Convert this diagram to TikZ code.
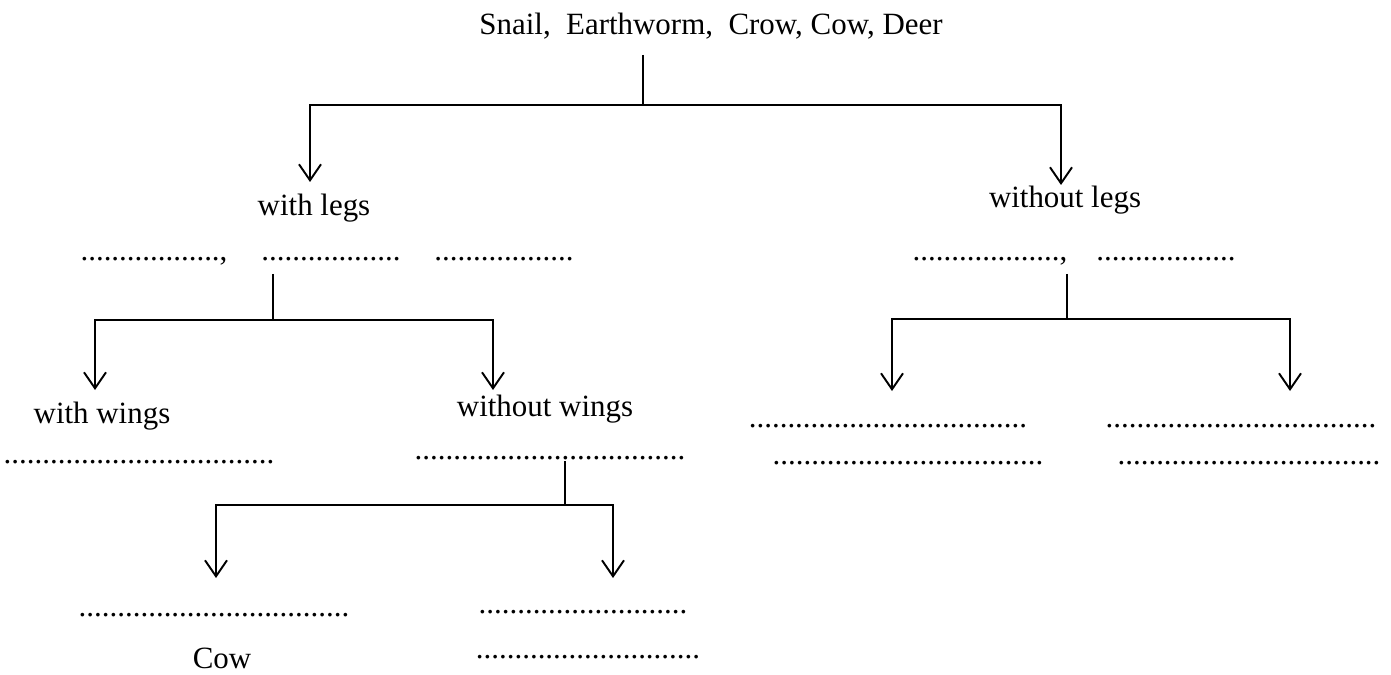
\documentclass[tikz,border=0pt]{standalone}
\usepackage{fontspec}
\setmainfont{Liberation Serif}
\usepackage{tikz}
\usetikzlibrary{
    arrows.meta,
    calc
}
\tikzset{
    lbl/.style={anchor=base, inner sep=0pt, font=\fontsize{17.6}{20}\selectfont},
    stem/.style={line width=1.1pt},
    arr/.style={line width=1.1pt, -{Straight Barb[length=0.32cm, width=0.44cm, line width=1.1pt]}},
}

\begin{document}
\begin{tikzpicture}[x=0.02cm, y=-0.02cm]
    \useasboundingbox (0,0) rectangle (1391,675);
    % labels
    \node[lbl] (all) at (711,35) {Snail,\ \ Earthworm,\ \ Crow, Cow, Deer};
    \node[lbl] (legs) at (314,216) {with legs};
    \node[lbl] (nolegs) at (1065,208) {without legs};
    \node[lbl] (legsa) at (154,260) {..................,};
    \node[lbl] (legsb) at (331,260) {..................};
    \node[lbl] (legsc) at (504,260) {..................};
    \node[lbl] (nolegsa) at (990,260) {...................,};
    \node[lbl] (nolegsb) at (1166,260) {..................};
    \node[lbl] (wings) at (102,423) {with wings};
    \node[lbl] (nowings) at (545,416) {without wings};
    \node[lbl] (wingsa) at (139,463) {...................................};
    \node[lbl] (nowingsa) at (550,459) {...................................};
    \node[lbl] (shella) at (888,427) {....................................};
    \node[lbl] (shellb) at (908,464) {...................................};
    \node[lbl] (noshella) at (1241,427) {...................................};
    \node[lbl] (noshellb) at (1249,464) {..................................};
    \node[lbl] (hoofa) at (214,616) {...................................};
    \node[lbl] (cow) at (222,668) {Cow};
    \node[lbl] (nohoofa) at (583,613) {...........................};
    \node[lbl] (nohoofb) at (588,658) {.............................};
    % junctions and arrow tips
    \coordinate (top) at (643,55);
    \coordinate (j0) at (643,105);
    \coordinate (t1) at (310,182);
    \coordinate (t2) at (1061,185);
    \coordinate (legstop) at (273,274);
    \coordinate (j1) at (273,320);
    \coordinate (t3) at (95,390);
    \coordinate (t4) at (493,390);
    \coordinate (nolegstop) at (1067,274);
    \coordinate (j2) at (1067,319);
    \coordinate (t5) at (892,391);
    \coordinate (t6) at (1290,391);
    \coordinate (wingstop) at (565,461);
    \coordinate (j3) at (565,505);
    \coordinate (t7) at (216,578);
    \coordinate (t8) at (613,578);
    % tree
    \draw[stem] (top) -- (j0);
    \draw[arr] (j0) -| (t1);
    \draw[arr] (j0) -| (t2);
    \draw[stem] (legstop) -- (j1);
    \draw[arr] (j1) -| (t3);
    \draw[arr] (j1) -| (t4);
    \draw[stem] (nolegstop) -- (j2);
    \draw[arr] (j2) -| (t5);
    \draw[arr] (j2) -| (t6);
    \draw[stem] (wingstop) -- (j3);
    \draw[arr] (j3) -| (t7);
    \draw[arr] (j3) -| (t8);
\end{tikzpicture}
\end{document}
